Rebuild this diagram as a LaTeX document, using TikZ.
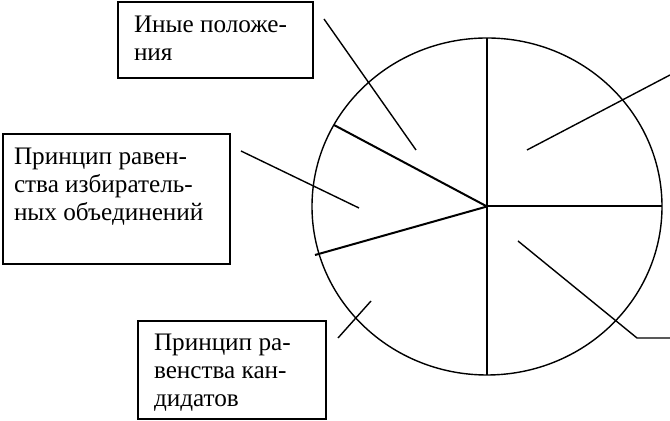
\documentclass[tikz,border=0pt]{standalone}
\usepackage{fontspec}
\setmainfont{Liberation Serif}
\newfontfamily\labfont[Script=Cyrillic]{Liberation Serif}
\usetikzlibrary{positioning}

\begin{document}
\begin{tikzpicture}[
    x=0.5pt, y=-0.5pt,
    box/.style={draw, line width=1pt, anchor=north west, inner xsep=8pt, inner ysep=7pt,
                font=\labfont\fontsize{12.6}{13.9}\selectfont},
    rad/.style={line width=1pt},
    lead/.style={line width=0.7pt},
]
    \useasboundingbox (0,0) rectangle (670,421);

    % circle and its sectors
    \coordinate (c)   at (487,206.5);
    \coordinate (top) at (487,38);
    \coordinate (bot) at (487,375);
    \coordinate (rgt) at (662,206.5);
    \coordinate (ul)  at (334,125);
    \coordinate (ll)  at (315,255);
    \draw[line width=0.7pt] (c) ellipse [x radius=87.5pt, y radius=84.25pt];
    \draw[rad] (top) -- (bot);
    \draw[rad] (c) -- (rgt);
    \draw[rad] (c) -- (ul);
    \draw[rad] (c) -- (ll);

    % labels
    \node[box] (other) at (117,1)
        {\parbox[c][24pt][t]{81.5pt}{Иные положе-\\ния}};
    \node[box, inner xsep=5.5pt] (parties) at (2,133)
        {\parbox[c][51pt][t]{102.5pt}{Принцип равен-\\ства избиратель-\\ных объединений}};
    \node[box, inner ysep=6.5pt] (cands) at (137,320)
        {\parbox[c][36pt][t]{78pt}{Принцип ра-\\венства кан-\\дидатов}};

    % leaders
    \coordinate (o1) at (324,19);   \coordinate (o2) at (416,150);
    \coordinate (p1) at (241,151);  \coordinate (p2) at (359,208);
    \coordinate (k1) at (338,338);  \coordinate (k2) at (371,301);
    \coordinate (r1) at (527,150);  \coordinate (r2) at (670,75);
    \coordinate (s1) at (518,241);  \coordinate (s2) at (637,338);
    \coordinate (s3) at (670,338);
    \draw[lead] (o1) -- (o2);
    \draw[lead] (p1) -- (p2);
    \draw[lead] (k1) -- (k2);
    \draw[lead] (r1) -- (r2);
    \draw[lead] (s1) -- (s2) -- (s3);
\end{tikzpicture}
\end{document}
